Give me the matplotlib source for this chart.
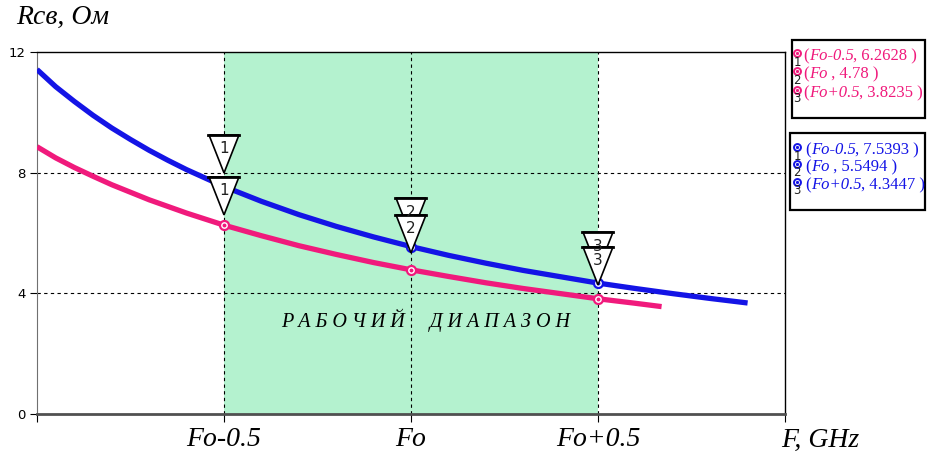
import matplotlib
matplotlib.use("Agg")
import matplotlib.pyplot as plt
import matplotlib.transforms as mtransforms
from matplotlib.patches import Polygon, Rectangle

# Data (x relative to Fo, GHz)
blue_x = [-1.0, -0.95, -0.9, -0.85, -0.8, -0.75, -0.7, -0.65, -0.6, -0.5, -0.4, -0.3,
          -0.2, -0.1, 0.0, 0.1, 0.2, 0.3, 0.4, 0.5, 0.6, 0.7, 0.8, 0.9]
blue_y = [11.42, 10.85, 10.36, 9.90, 9.48, 9.10, 8.74, 8.41, 8.10, 7.54, 7.05, 6.61,
          6.22, 5.87, 5.55, 5.26, 5.00, 4.76, 4.55, 4.34, 4.16, 3.99, 3.83, 3.68]
pink_x = [-1.0, -0.95, -0.9, -0.85, -0.8, -0.75, -0.7, -0.65, -0.6, -0.5, -0.4, -0.3,
          -0.2, -0.1, 0.0, 0.1, 0.2, 0.3, 0.4, 0.5, 0.6, 0.67]
pink_y = [8.86, 8.49, 8.17, 7.88, 7.60, 7.35, 7.10, 6.88, 6.66, 6.26, 5.91, 5.58,
          5.29, 5.02, 4.78, 4.56, 4.35, 4.16, 3.99, 3.82, 3.67, 3.56]

trace_x = [-0.5, 0.0, 0.5]
trace_blue = [7.5393, 5.5494, 4.3447]
trace_pink = [6.2628, 4.78, 3.8235]
trace_names = ['1', '2', '3']
upper_flag_tip = [7.99, 5.90, 4.77]
lower_flag_tip = [6.60, 5.34, 4.28]

x_tick_labels = ['Fo-0.5', 'Fo', 'Fo+0.5']
pink_legend = [('Fo-0.5', ', 6.2628 )'), ('Fo', ' , 4.78 )'), ('Fo+0.5', ', 3.8235 )')]
blue_legend = [('Fo-0.5', ', 7.5393 )'), ('Fo', ' , 5.5494 )'), ('Fo+0.5', ', 4.3447 )')]

BLUE = '#1414e6'
PINK = '#f01a7c'
GREEN = '#b4f2cf'
SERIF = 'Liberation Serif'
W, H = 929, 455

fig = plt.figure(figsize=(W / 100, H / 100), dpi=100)
ax = fig.add_axes([37 / W, 1 - 414 / H, (785 - 37) / W, (414 - 52) / H])
ax.set_xlim(-1, 1)
ax.set_ylim(0, 12)

# working range band
ax.axvspan(-0.5, 0.5, color=GREEN, zorder=0, lw=0)
for xv in trace_x:
    ax.axvline(xv, color='black', lw=0.8, ls=(0, (3, 3)), zorder=1)
for yv in [4, 8]:
    ax.axhline(yv, color='black', lw=0.8, ls=(0, (3, 3)), zorder=1)

ax.plot(blue_x, blue_y, color=BLUE, lw=3.8, solid_capstyle='butt', zorder=3)
ax.plot(pink_x, pink_y, color=PINK, lw=3.8, solid_capstyle='butt', zorder=3)
for ys, col in [(trace_blue, BLUE), (trace_pink, PINK)]:
    ax.plot(trace_x, ys, ls='none', marker='o', ms=6.5, mfc='white', mec=col, mew=1.6, zorder=4)
    ax.plot(trace_x, ys, ls='none', marker='o', ms=1.8, mfc=col, mec=col, zorder=4)


def flag(x, y_tip, label):
    tr = fig.dpi_scale_trans + mtransforms.ScaledTranslation(x, y_tip, ax.transData)
    tri = Polygon([(0, 0), (-0.15, 0.38), (0.15, 0.38)], closed=True, fc='white',
                  ec='black', lw=1.2, transform=tr, zorder=6)
    ax.add_patch(tri)
    ax.plot([-0.155, 0.155], [0.38, 0.38], color='black', lw=2, transform=tr, zorder=6)
    ax.text(0, 0.24, label, transform=tr, ha='center', va='center', fontsize=11,
            family='DejaVu Sans', color='#202020', zorder=7)


for xv, yu, yl, name in zip(trace_x, upper_flag_tip, lower_flag_tip, trace_names):
    flag(xv, yu, name)
    flag(xv, yl, name)

ax.text(0.04, 3.12, 'Р А Б О Ч И Й     Д И А П А З О Н', ha='center', va='center',
        family=SERIF, style='italic', fontsize=14.5, zorder=5)

ax.set_yticks([0, 4, 8, 12])
ax.set_xticks([-1, -0.5, 0, 0.5, 1])
ax.set_xticklabels([])
ax.tick_params(axis='y', direction='out', length=5, labelsize=9.5, pad=3)
ax.tick_params(axis='x', direction='out', length=6, width=0.8)
ax.spines['left'].set_color('#707070')
ax.spines['bottom'].set_color('#505050')
ax.spines['bottom'].set_linewidth(2)
ax.spines['top'].set_linewidth(1)
ax.spines['right'].set_linewidth(1)

# overlay in pixel coordinates for labels and legend boxes
ov = fig.add_axes([0, 0, 1, 1], facecolor='none')
ov.set_xlim(0, W)
ov.set_ylim(H, 0)
ov.axis('off')

for xv, lab in zip(trace_x, x_tick_labels):
    px = ax.transData.transform((xv, 0))[0]
    ov.text(px, 440, lab, ha='center', va='center', family=SERIF, style='italic', fontsize=20)
ov.text(820, 440, 'F, GHz', ha='center', va='center', family=SERIF, style='italic', fontsize=20)
ov.text(16, 17, 'Rсв, Ом', ha='left', va='center', family=SERIF, style='italic', fontsize=20)

renderer = fig.canvas.get_renderer()


def legend_box(x0, y0, x1, y1, rows, color, row_y, text_x):
    ov.add_patch(Rectangle((x0, y0), x1 - x0, y1 - y0, fc='white', ec='black', lw=1.6, zorder=2))
    for (ital, rest), yy, num in zip(rows, row_y, trace_names):
        ov.plot([797], [yy - 3], marker='o', ms=5, mfc='white', mec=color, mew=1.4, zorder=3)
        ov.plot([797], [yy - 3], marker='o', ms=1.3, mfc=color, mec=color, zorder=3)
        ov.text(797, yy + 6, num, ha='center', va='center', fontsize=8.5, family='DejaVu Sans',
                color='#202020', zorder=3)
        xx = text_x
        for txt, st in [('(', 'normal'), (ital, 'italic'), (rest, 'normal')]:
            t = ov.text(xx, yy, txt, ha='left', va='center', family=SERIF, style=st,
                        fontsize=12, color=color, zorder=3)
            xx += t.get_window_extent(renderer).width


legend_box(792, 40, 925, 118, pink_legend, PINK, [56, 74, 93], 803)
legend_box(790, 133, 925, 210, blue_legend, BLUE, [150, 167, 185], 805)

fig.savefig('out.png', dpi=100)
